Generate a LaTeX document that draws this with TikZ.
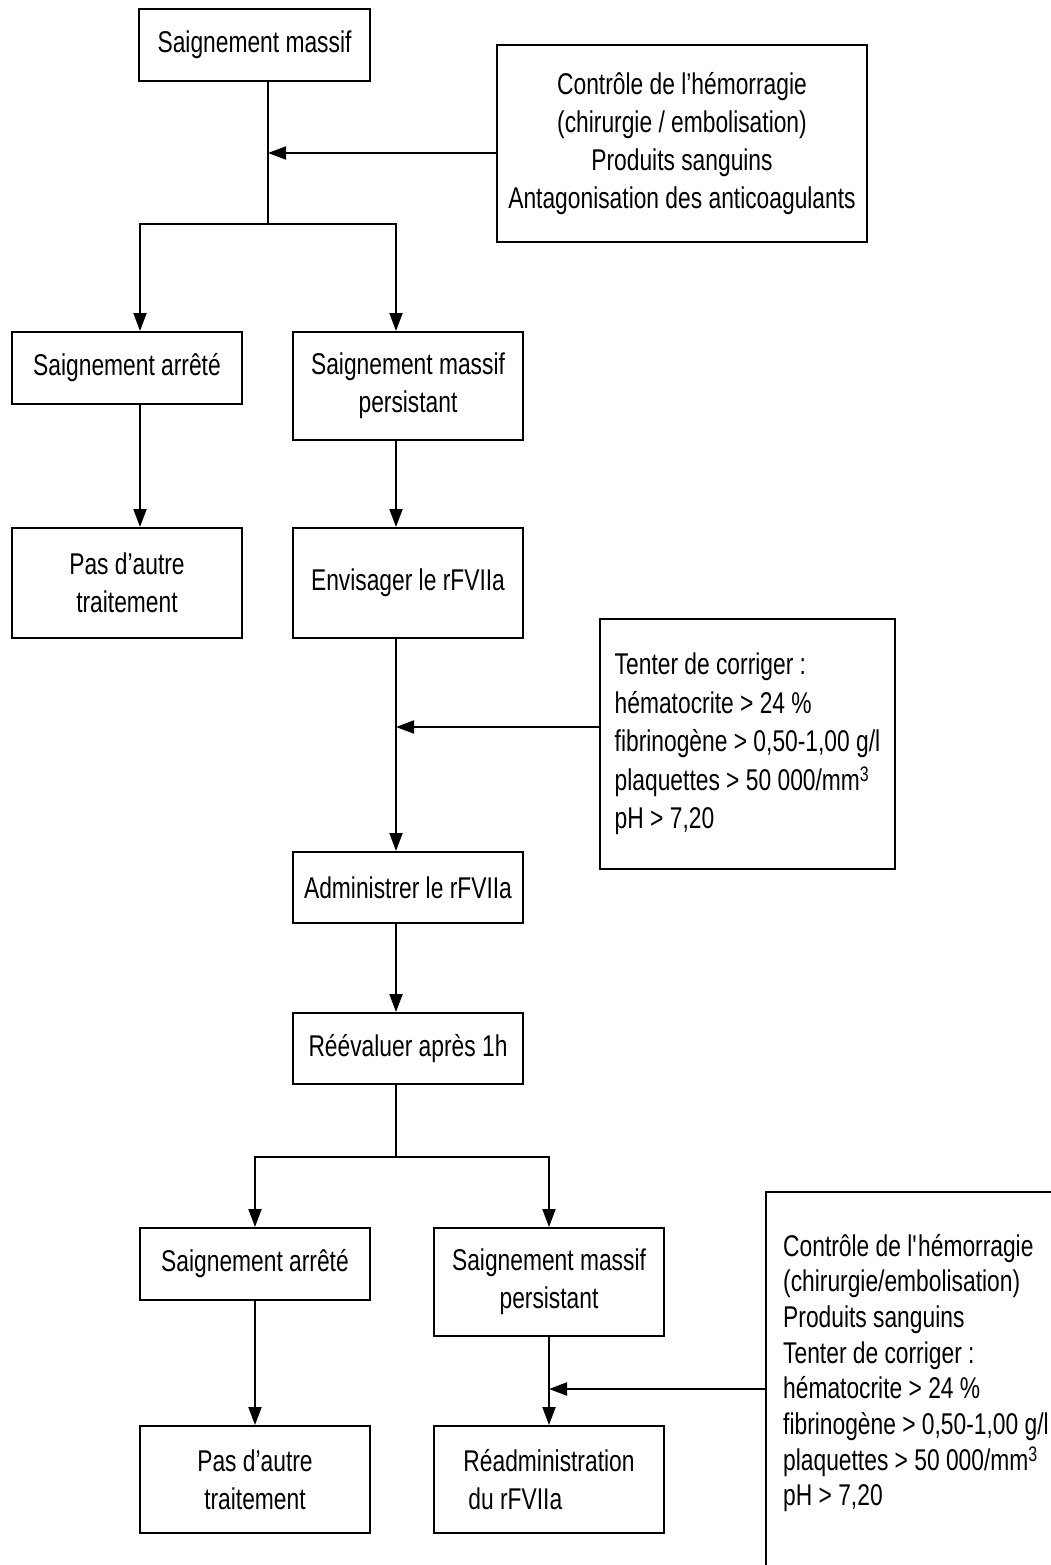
\documentclass[tikz,border=0pt]{standalone}
\usepackage{fontspec}
\setmainfont{Liberation Sans}[FakeStretch=0.76]
\usetikzlibrary{arrows.meta,calc}
\begin{document}
\begin{tikzpicture}[x=1pt,y=-1pt,
  ln/.style={line width=2pt,draw=black},
  arr/.style={ln,-{Triangle[length=18pt,width=13pt]}},
  fbox/.style={draw=black,line width=2pt,inner sep=0pt,align=center,
    font=\fontsize{30pt}{38pt}\selectfont},
  ftext/.style={inner sep=0pt,font=\fontsize{30pt}{35.7pt}\selectfont}]
\useasboundingbox (0,0) rectangle (1051,1565);
\clip (0,0) rectangle (1051,1565);
\fill[white] (0,0) rectangle (1051,1565);

% boxes
\node[fbox,minimum width=231pt,minimum height=72pt] (b1) at (254.5,45) {Saignement massif};
\node[fbox,minimum width=370pt,minimum height=197pt] (r1) at (682,143.5)
  {Contrôle de l’hémorragie\\(chirurgie / embolisation)\\Produits sanguins\\Antagonisation des anticoagulants};
\node[fbox,minimum width=230pt,minimum height=72pt] (b4) at (127,368) {Saignement arrêté};
\node[fbox,minimum width=230pt,minimum height=108pt] (b5) at (408,386) {Saignement massif\\persistant};
\node[fbox,minimum width=230pt,minimum height=110pt] (b7) at (127,583) {Pas d’autre\\traitement};
\node[fbox,minimum width=230pt,minimum height=110pt] (b8) at (408,583) {Envisager le rFVIIa};
\node[fbox,align=left,minimum width=295pt,minimum height=250pt,
  font=\fontsize{30pt}{38.5pt}\selectfont] (tn) at (747.5,744)
  {Tenter de corriger :\\hématocrite > 24 \%\\fibrinogène > 0,50-1,00 g/l\\plaquettes > 50 000/mm\textsuperscript{3}\\pH > 7,20};
\node[fbox,minimum width=230pt,minimum height=71pt] (b12) at (408,887.5) {Administrer le rFVIIa};
\node[fbox,minimum width=230pt,minimum height=71pt] (b14) at (408,1048.5) {Réévaluer après 1h};
\node[fbox,minimum width=230pt,minimum height=72pt] (b16) at (255,1264) {Saignement arrêté};
\node[fbox,minimum width=230pt,minimum height=108pt] (b17) at (549,1282) {Saignement massif\\persistant};
\node[fbox,minimum width=230pt,minimum height=107pt] (b18) at (255,1479.5) {Pas d’autre\\traitement};
\node[fbox,align=left,minimum width=230pt,minimum height=107pt] (b19) at (549,1479.5) {Réadministration\\\hspace{5pt}du rFVIIa};

% bottom-right box (cut off by the picture's edge)
\draw[ln] (766,1580) -- (766,1192) -- (1060,1192);
\node[ftext,anchor=west,align=left,inner xsep=17pt] (rb) at (766,1373)
  {Contrôle de l\textquotesingle hémorragie\\(chirurgie/embolisation)\\Produits sanguins\\Tenter de corriger :\\hématocrite > 24 \%\\fibrinogène > 0,50-1,00 g/l\\plaquettes > 50 000/mm\textsuperscript{3}\\pH > 7,20};

% junction coordinates
\coordinate (t1) at (268,224);
\coordinate (jL) at (140,224);
\coordinate (jR) at (396,224);
\coordinate (s1) at (268,153);
\coordinate (s2) at (396,727);
\coordinate (t2) at (396,1157);
\coordinate (s3) at (549,1389);

% connectors
\draw[arr] (b1.south -| t1) -- (t1) -| (b4.north -| jL);
\draw[arr] (t1) -| (b5.north -| jR);
\draw[arr] (r1.west |- s1) -- (s1);
\draw[arr] (b4.south -| jL) -- (b7.north -| jL);
\draw[arr] (b5.south -| jR) -- (b8.north -| jR);
\draw[arr] (b8.south -| jR) -- (b12.north -| jR);
\draw[arr] (tn.west |- s2) -- (s2);
\draw[arr] (b12.south -| jR) -- (b14.north -| jR);
\draw[arr] (b14.south -| t2) -- (t2) -| (b16.north);
\draw[arr] (t2) -| (b17.north);
\draw[arr] (b16.south) -- (b18.north);
\draw[arr] (b17.south) -- (b19.north);
\draw[arr] (rb.west |- s3) -- (s3);
\end{tikzpicture}
\end{document}
